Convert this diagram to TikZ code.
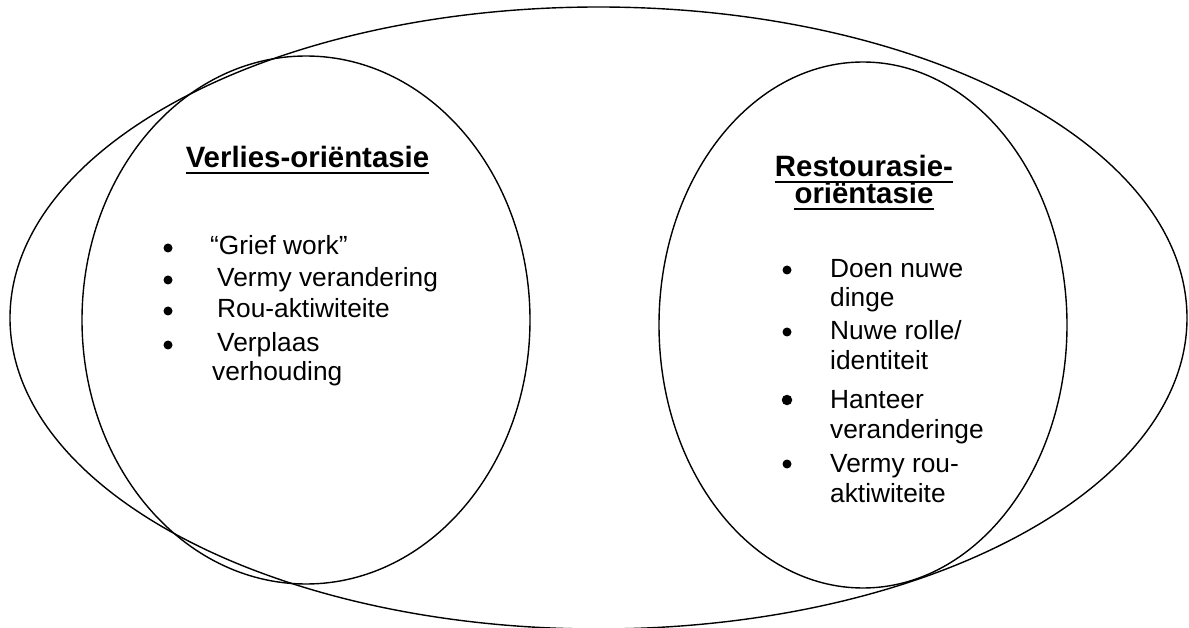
\documentclass[tikz,border=0pt]{standalone}
\usepackage{fontspec}
\setmainfont{Liberation Sans}
\usepackage{tikz}

\begin{document}
\begin{tikzpicture}[x=1pt,y=-1pt,
  ring/.style={draw=black,line width=1.4pt},
  heading/.style={inner sep=0pt,anchor=base,font=\fontsize{29.4}{33}\selectfont\bfseries},
  item/.style={inner sep=0pt,anchor=base west,font=\fontsize{26.3}{29.5}\selectfont},
  dot/.style={circle,fill=black,inner sep=0pt,minimum size=9pt},
  rule/.style={line width=2.4pt}]
  \useasboundingbox (0,0) rectangle (1189,628);
  \draw[ring] (598.5,318) ellipse [x radius=588.5pt,y radius=311pt];
  \draw[ring] (306,320) ellipse [x radius=224pt,y radius=264pt];
  \draw[ring] (863,325) ellipse [x radius=204pt,y radius=263pt];
  \node[heading] (vt)  at (307.5,168) {Verlies-oriëntasie};
  \node[heading] (rt1) at (864,177)   {Restourasie-};
  \node[heading] (rt2) at (864,204)   {oriëntasie};
  \draw[rule] ([yshift=-5pt]vt.base west) -- ([yshift=-5pt]vt.base east);
  \draw[rule] ([yshift=-5pt]rt1.base west) -- ([yshift=-5pt]rt1.base east);
  \draw[rule] ([yshift=-5pt]rt2.base west) -- ([yshift=-5pt]rt2.base east);
  \node[dot]  (vb1) at (168,248) {};
  \node[item] (vi1) at (210,255) {“Grief work”};
  \node[dot]  (vb2) at (168,280) {};
  \node[item] (vi2) at (217,287) {Vermy verandering};
  \node[dot]  (vb3) at (168,311) {};
  \node[item] (vi3) at (217,318) {Rou-aktiwiteite};
  \node[dot]  (vb4) at (168,345) {};
  \node[item] (vi4) at (217,352) {Verplaas};
  \node[item] (vi5) at (212,380) {verhouding};
  \node[dot]  (rb1) at (787,270) {};
  \node[item] (ri1) at (830,278) {Doen nuwe};
  \node[item] (ri2) at (830,307) {dinge};
  \node[dot]  (rb2) at (787,332) {};
  \node[item] (ri3) at (830,340) {Nuwe rolle/};
  \node[item] (ri4) at (830,370) {identiteit};
  \node[dot,minimum size=10.5pt] (rb3) at (787,400) {};
  \node[item] (ri5) at (830,408) {Hanteer};
  \node[item] (ri6) at (830,438) {veranderinge};
  \node[dot]  (rb4) at (787,464) {};
  \node[item] (ri7) at (830,472) {Vermy rou-};
  \node[item] (ri8) at (830,502) {aktiwiteite};
\end{tikzpicture}
\end{document}
